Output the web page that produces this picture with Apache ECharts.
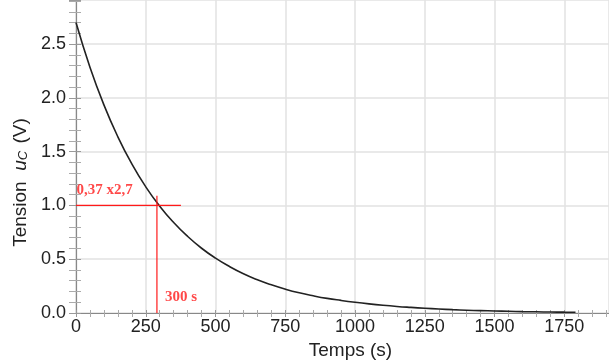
<!DOCTYPE html>
<html>
<head>
<meta charset="utf-8">
<script src="https://cdn.jsdelivr.net/npm/echarts@6/dist/echarts.min.js"></script>
<style>html,body{margin:0;padding:0;background:#fff;}#c{width:609px;height:362px;}</style>
</head>
<body>
<div id="c"></div>
<script>
// Time (s) and voltage u_C (V)
const times = [0,50,100,150,200,250,300,350,400,450,500,550,600,650,700,750,800,850,900,950,1000,1050,1100,1150,1200,1250,1300,1350,1400,1450,1500,1550,1600,1650,1700,1750,1790];
const voltages = [2.70,2.285,1.935,1.638,1.386,1.173,0.993,0.841,0.712,0.602,0.510,0.432,0.365,0.309,0.262,0.222,0.188,0.160,0.136,0.117,0.100,0.085,0.072,0.061,0.052,0.044,0.037,0.031,0.026,0.022,0.019,0.016,0.013,0.011,0.009,0.008,0.007];
// Red construction lines
const hLineX = [0, 376];
const hLineY = [1.0, 1.0];
const vLineX = [290, 290];
const vLineY = [1.09, 0];
// Annotations
const annotTexts = ['0,37 x2,7', '300 s'];
const annotX = [2, 319];
const annotY = [1.14, 0.15];
const xTicks = [0,250,500,750,1000,1250,1500,1750];
const yTicks = [0.0,0.5,1.0,1.5,2.0,2.5];

const chart = echarts.init(document.getElementById('c'), null, {renderer:'canvas'});
const zip = (a,b) => a.map((v,i)=>[v,b[i]]);
const axisFont = 'Liberation Sans, Arial, sans-serif';
const xBase = {type:'value',min:0,max:1910,interval:250};
const yBase = {type:'value',min:0,max:2.91,interval:0.5};
chart.setOption({
  animation:false,
  backgroundColor:'#fff',
  grid:{left:76,right:0,top:0,bottom:49,containLabel:false,outerBoundsMode:'none'},
  xAxis:[Object.assign({}, xBase, {
    name:'Temps (s)',nameLocation:'middle',nameGap:28,
    nameTextStyle:{fontFamily:axisFont,fontSize:19,color:'#222',padding:[0,0,0,16]},
    axisLine:{show:true,onZero:false,lineStyle:{color:'#888',width:1.2}},
    axisTick:{show:true,length:4,lineStyle:{color:'#999'}},
    minorTick:{show:true,splitNumber:5,length:4,lineStyle:{color:'#aaa'}},
    axisLabel:{fontFamily:axisFont,fontSize:18,color:'#222',margin:5,showMaxLabel:false,
      formatter:v=>xTicks.includes(v)?String(v):''},
    splitLine:{show:true,lineStyle:{color:'#e2e2e2',width:1.5}}
  }), Object.assign({}, xBase, {
    position:'bottom',
    axisLine:{show:false},axisLabel:{show:false},splitLine:{show:false},
    axisTick:{show:true,inside:true,length:3,lineStyle:{color:'#999'}},
    minorTick:{show:true,splitNumber:5,length:3,lineStyle:{color:'#aaa'}}
  })],
  yAxis:[Object.assign({}, yBase, {
    name:'{t|Tension  }{u|u}{s|C}{t| (V)}',nameLocation:'middle',nameGap:39,nameRotate:90,
    nameTextStyle:{padding:[0,52,0,0],rich:{
      t:{fontFamily:axisFont,fontSize:19,color:'#222'},
      u:{fontFamily:axisFont,fontSize:19,fontStyle:'italic',color:'#222'},
      s:{fontFamily:axisFont,fontSize:13,fontStyle:'italic',color:'#222',verticalAlign:'bottom',padding:[6,2,0,0]}
    }},
    axisLine:{show:true,lineStyle:{color:'#888',width:1.2}},
    axisTick:{show:true,length:7,lineStyle:{color:'#999'}},
    minorTick:{show:true,splitNumber:5,length:7,lineStyle:{color:'#aaa'}},
    axisLabel:{fontFamily:axisFont,fontSize:18,color:'#222',margin:10,showMaxLabel:false,
      formatter:v=>yTicks.some(t=>Math.abs(t-v)<1e-6)?v.toFixed(1):''},
    splitLine:{show:true,lineStyle:{color:'#e2e2e2',width:1.5}}
  }), Object.assign({}, yBase, {
    position:'left',
    axisLine:{show:false},axisLabel:{show:false},splitLine:{show:false},
    axisTick:{show:true,inside:true,length:5,lineStyle:{color:'#999'}},
    minorTick:{show:true,splitNumber:5,length:5,lineStyle:{color:'#aaa'}}
  })],
  series:[
    {type:'line',data:zip(times,voltages),smooth:true,showSymbol:false,
      lineStyle:{color:'#222',width:1.6},z:3},
    {type:'line',data:zip(hLineX,hLineY),showSymbol:false,lineStyle:{color:'#ff1a1a',width:1.2},z:4},
    {type:'line',data:zip(vLineX,vLineY),showSymbol:false,lineStyle:{color:'#ff1a1a',width:1.2},z:4},
    {type:'scatter',symbolSize:0,z:5,
      data:annotTexts.map((t,i)=>({value:[annotX[i],annotY[i]],name:t})),
      label:{show:true,position:'right',distance:0,formatter:p=>p.name,
        fontFamily:'Liberation Serif, Times New Roman, serif',fontWeight:'bold',fontSize:15,color:'#ff1a1a'}}
  ]
});
</script>
</body>
</html>
